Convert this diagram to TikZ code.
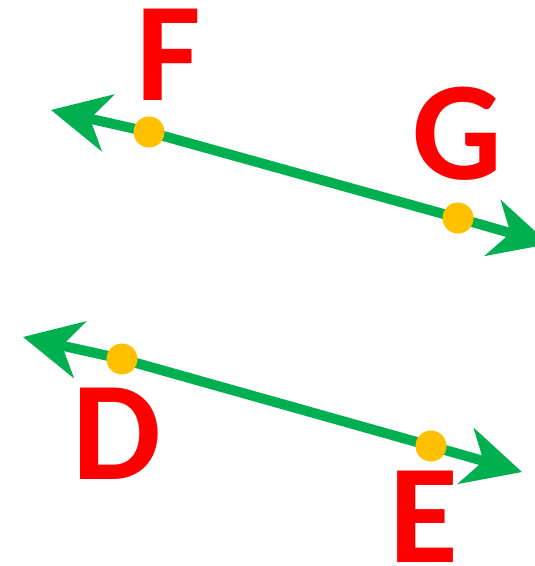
\documentclass[tikz,border=0pt]{standalone}
\usepackage{fontspec}
\setmainfont{Carlito}
\usetikzlibrary{arrows.meta,backgrounds}
\definecolor{raygreen}{HTML}{00B050}
\definecolor{dotorange}{HTML}{FFC000}
\definecolor{labelred}{HTML}{FF0000}
\tikzset{
  raytip/.tip={Stealth[length=59pt,width=59pt,inset=19pt,line width=0pt]},
  ray/.style={draw=raygreen,line width=10pt,line join=round,raytip-raytip},
  dot/.style={circle,fill=dotorange,minimum size=31pt,inner sep=0pt},
  letter/.style={text=labelred,font=\bfseries\fontsize{141}{141}\selectfont,inner sep=0pt,anchor=base}
}
\begin{document}
\begin{tikzpicture}[x=1pt,y=-1pt]
    \useasboundingbox (0,0) rectangle (535,566);
    \clip (0,0) rectangle (535,566);
    % upper line
    \coordinate (fgstart) at (51,110);
    \coordinate (fgend) at (549,244);
    \node (F) [dot] at (149,132) {};
    \node (G) [dot] at (458,218) {};
    % lower line
    \coordinate (destart) at (23,337);
    \coordinate (deend) at (522,472);
    \node (D) [dot] at (122,359) {};
    \node (E) [dot] at (431,446) {};
    \begin{scope}[on background layer]
      \path[ray] (fgstart) -- (F.center) -- (G.center) -- (fgend);
      \path[ray] (destart) -- (D.center) -- (E.center) -- (deend);
    \end{scope}
    % labels
    \node (labF) [letter] at (169,100) {F};
    \node (labG) [letter] at (457,179) {G};
    \node (labD) [letter] at (117,479) {D};
    \node (labE) [letter] at (424,562) {E};
\end{tikzpicture}
\end{document}
